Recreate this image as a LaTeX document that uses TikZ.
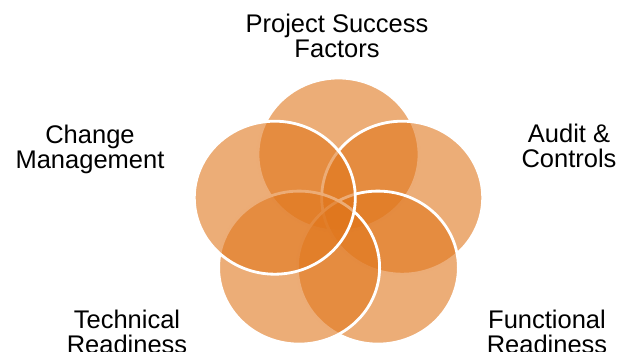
\documentclass[tikz,border=0pt]{standalone}
\usepackage{fontspec}
\setmainfont{Liberation Sans}
\usetikzlibrary{shapes.geometric}
\definecolor{petalc}{RGB}{224,118,28}
\begin{document}
\begin{tikzpicture}[x=1pt,y=-1pt,
  petal/.style={ellipse, minimum width=161pt, minimum height=153pt, inner sep=0pt,
    fill=petalc, fill opacity=0.6, draw=white, draw opacity=1, line width=2.8pt},
  lbl/.style={align=center, font=\fontsize{25.5}{25.5}\selectfont, inner sep=0pt,
    anchor=north, text=black}]
\useasboundingbox (0,0) rectangle (621,352);
% circles, in drawing order
\node[petal] (ptop) at (338.5,154.5) {};
\node[petal] (pright) at (402.2,197.7) {};
\node[petal] (plr) at (377.9,267.6) {};
\node[petal] (pll) at (299.1,267.6) {};
\node[petal] (pleft) at (274.8,197.7) {};
% labels
\node[lbl] (ltop) at (337,13.5) {Project Success\\Factors};
\node[lbl] (lleft) at (90,124.5) {Change\\Management};
\node[lbl] (lright) at (569,123.5) {Audit \&\\Controls};
\node[lbl] (lll) at (127,309.5) {Technical\\Readiness};
\node[lbl] (llr) at (547,309.5) {Functional\\Readiness};
\end{tikzpicture}
\end{document}
